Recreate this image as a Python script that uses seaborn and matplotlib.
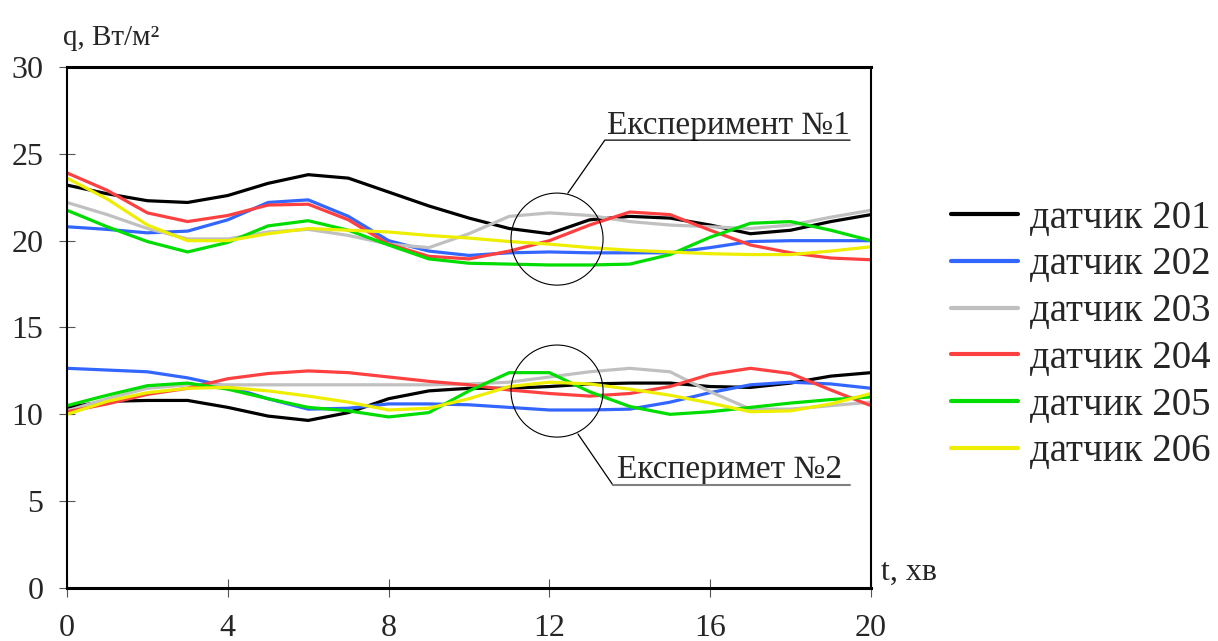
import numpy as np
import pandas as pd
import matplotlib
matplotlib.use("Agg")
import matplotlib.pyplot as plt
import seaborn as sns
from matplotlib.patches import Ellipse

# ---------------- data ----------------
t = list(range(0, 21))
sensors = ["датчик 201", "датчик 202", "датчик 203", "датчик 204", "датчик 205", "датчик 206"]
colors = ["#000000", "#3366FF", "#C0C0C0", "#FF4040", "#00DD00", "#EEEE00"]

# Experiment 1 (upper group)
exp1_201 = [23.2, 22.7, 22.3, 22.2, 22.6, 23.3, 23.8, 23.6, 22.8, 22.0, 21.3, 20.7, 20.4, 21.2, 21.4, 21.3, 20.9, 20.4, 20.6, 21.1, 21.5]
exp1_202 = [20.8, 20.65, 20.45, 20.55, 21.2, 22.2, 22.35, 21.4, 20.0, 19.4, 19.15, 19.3, 19.35, 19.3, 19.3, 19.3, 19.6, 19.95, 20.0, 20.0, 20.0]
exp1_203 = [22.2, 21.5, 20.7, 20.1, 20.1, 20.5, 20.65, 20.3, 19.8, 19.6, 20.4, 21.4, 21.6, 21.45, 21.1, 20.9, 20.8, 20.7, 20.9, 21.35, 21.75]
exp1_204 = [23.9, 22.9, 21.6, 21.1, 21.45, 22.05, 22.1, 21.2, 19.8, 19.1, 18.95, 19.4, 20.0, 20.9, 21.65, 21.5, 20.6, 19.75, 19.3, 19.0, 18.9]
exp1_205 = [21.75, 20.8, 19.95, 19.35, 19.9, 20.85, 21.15, 20.6, 19.75, 18.95, 18.7, 18.65, 18.6, 18.6, 18.65, 19.2, 20.2, 21.0, 21.1, 20.6, 20.0]
exp1_206 = [23.6, 22.4, 20.9, 20.0, 20.0, 20.4, 20.7, 20.6, 20.5, 20.3, 20.15, 19.95, 19.8, 19.6, 19.45, 19.35, 19.25, 19.2, 19.2, 19.4, 19.65]

# Experiment 2 (lower group)
exp2_201 = [10.4, 10.75, 10.8, 10.8, 10.4, 9.9, 9.65, 10.1, 10.9, 11.35, 11.5, 11.5, 11.6, 11.75, 11.8, 11.8, 11.6, 11.55, 11.8, 12.2, 12.4]
exp2_202 = [12.65, 12.55, 12.45, 12.1, 11.6, 10.9, 10.3, 10.35, 10.6, 10.6, 10.55, 10.4, 10.25, 10.25, 10.3, 10.7, 11.25, 11.7, 11.85, 11.75, 11.5]
exp2_203 = [10.2, 10.9, 11.5, 11.7, 11.7, 11.7, 11.7, 11.7, 11.7, 11.7, 11.75, 11.85, 12.15, 12.45, 12.65, 12.45, 11.3, 10.3, 10.3, 10.5, 10.7]
exp2_204 = [10.15, 10.6, 11.15, 11.5, 12.05, 12.35, 12.5, 12.4, 12.15, 11.9, 11.7, 11.4, 11.2, 11.05, 11.2, 11.6, 12.3, 12.65, 12.35, 11.4, 10.5]
exp2_205 = [10.5, 11.1, 11.65, 11.8, 11.45, 10.9, 10.4, 10.2, 9.85, 10.1, 11.35, 12.4, 12.4, 11.3, 10.45, 10.0, 10.15, 10.4, 10.65, 10.85, 11.0]
exp2_206 = [10.0, 10.75, 11.25, 11.5, 11.55, 11.35, 11.05, 10.7, 10.25, 10.35, 10.9, 11.6, 11.85, 11.75, 11.45, 11.1, 10.65, 10.15, 10.2, 10.6, 11.2]

exp1 = [exp1_201, exp1_202, exp1_203, exp1_204, exp1_205, exp1_206]
exp2 = [exp2_201, exp2_202, exp2_203, exp2_204, exp2_205, exp2_206]

x_ticks = [0, 4, 8, 12, 16, 20]
y_ticks = [0, 5, 10, 15, 20, 25, 30]

rows = []
for name, v1, v2 in zip(sensors, exp1, exp2):
    for ti, a in zip(t, v1):
        rows.append((ti, a, name, "exp1"))
    for ti, b in zip(t, v2):
        rows.append((ti, b, name, "exp2"))
df = pd.DataFrame(rows, columns=["t", "q", "sensor", "exp"])

# ---------------- style ----------------
sns.set_style("white")
plt.rcParams["font.family"] = ["Liberation Serif", "DejaVu Serif"]

fig = plt.figure(figsize=(12.18, 6.41), dpi=100)
ax = fig.add_axes([67 / 1218, 1 - 588 / 641, (871 - 67) / 1218, (588 - 67) / 641])

sns.lineplot(data=df, x="t", y="q", hue="sensor", units="exp", estimator=None,
             palette=dict(zip(sensors, colors)), hue_order=sensors,
             linewidth=2.3, ax=ax, legend=True, sort=False)

ax.set_xlim(0, 20)
ax.set_ylim(0, 30)
ax.set_xticks(x_ticks)
ax.set_yticks(y_ticks)
ax.set_xlabel("")
ax.set_ylabel("")
ax.grid(False)

for side in ["left", "right"]:
    ax.spines[side].set_linewidth(1.5)
    ax.spines[side].set_color("black")
for side in ["top", "bottom"]:
    ax.spines[side].set_linewidth(2.2)
    ax.spines[side].set_color("black")

ax.tick_params(axis="x", direction="inout", length=13, width=0.8, color="#555555",
               labelsize=23, pad=12, bottom=True)
ax.tick_params(axis="y", direction="inout", length=12, width=0.8, color="#555555",
               labelsize=23, pad=11, left=True)

# axis labels
fig.text(63 / 1218, 1 - 45 / 641, "q, Вт/м²", fontsize=21, ha="left", va="baseline")
ax.text(20.25, 0.45, "t, хв", fontsize=23, ha="left", va="baseline")

# annotations: circles + leaders + underlined labels
ax.add_patch(Ellipse((12.19, 20.09), 2.29, 5.30, fill=False, edgecolor="black", linewidth=0.8, zorder=5))
ax.add_patch(Ellipse((12.19, 11.34), 2.29, 5.30, fill=False, edgecolor="black", linewidth=0.8, zorder=5))

ax.plot([12.46, 13.38, 19.48], [22.74, 25.79, 25.79], color="black", linewidth=0.9, zorder=5)
ax.text(13.43, 26.14, "Експеримент №1", fontsize=24, ha="left", va="baseline")

ax.plot([12.71, 13.58], [8.87, 5.93], color="black", linewidth=0.9, zorder=5)
ax.plot([13.58, 19.48], [5.93, 5.93], color="#808080", linewidth=1.5, zorder=5)
ax.text(13.68, 6.33, "Експеримет №2", fontsize=24, ha="left", va="baseline")

# legend
handles, labels = ax.get_legend_handles_labels()
ax.get_legend().remove()
leg = fig.legend(handles, labels, loc="center left", bbox_to_anchor=(951 / 1218, 1 - 335 / 641),
                 frameon=False, fontsize=28, handlelength=1.72, handletextpad=0.3,
                 labelspacing=0.25, borderpad=0, borderaxespad=0)
for line in leg.get_lines():
    line.set_linewidth(3)

fig.savefig("out.png", dpi=100)
